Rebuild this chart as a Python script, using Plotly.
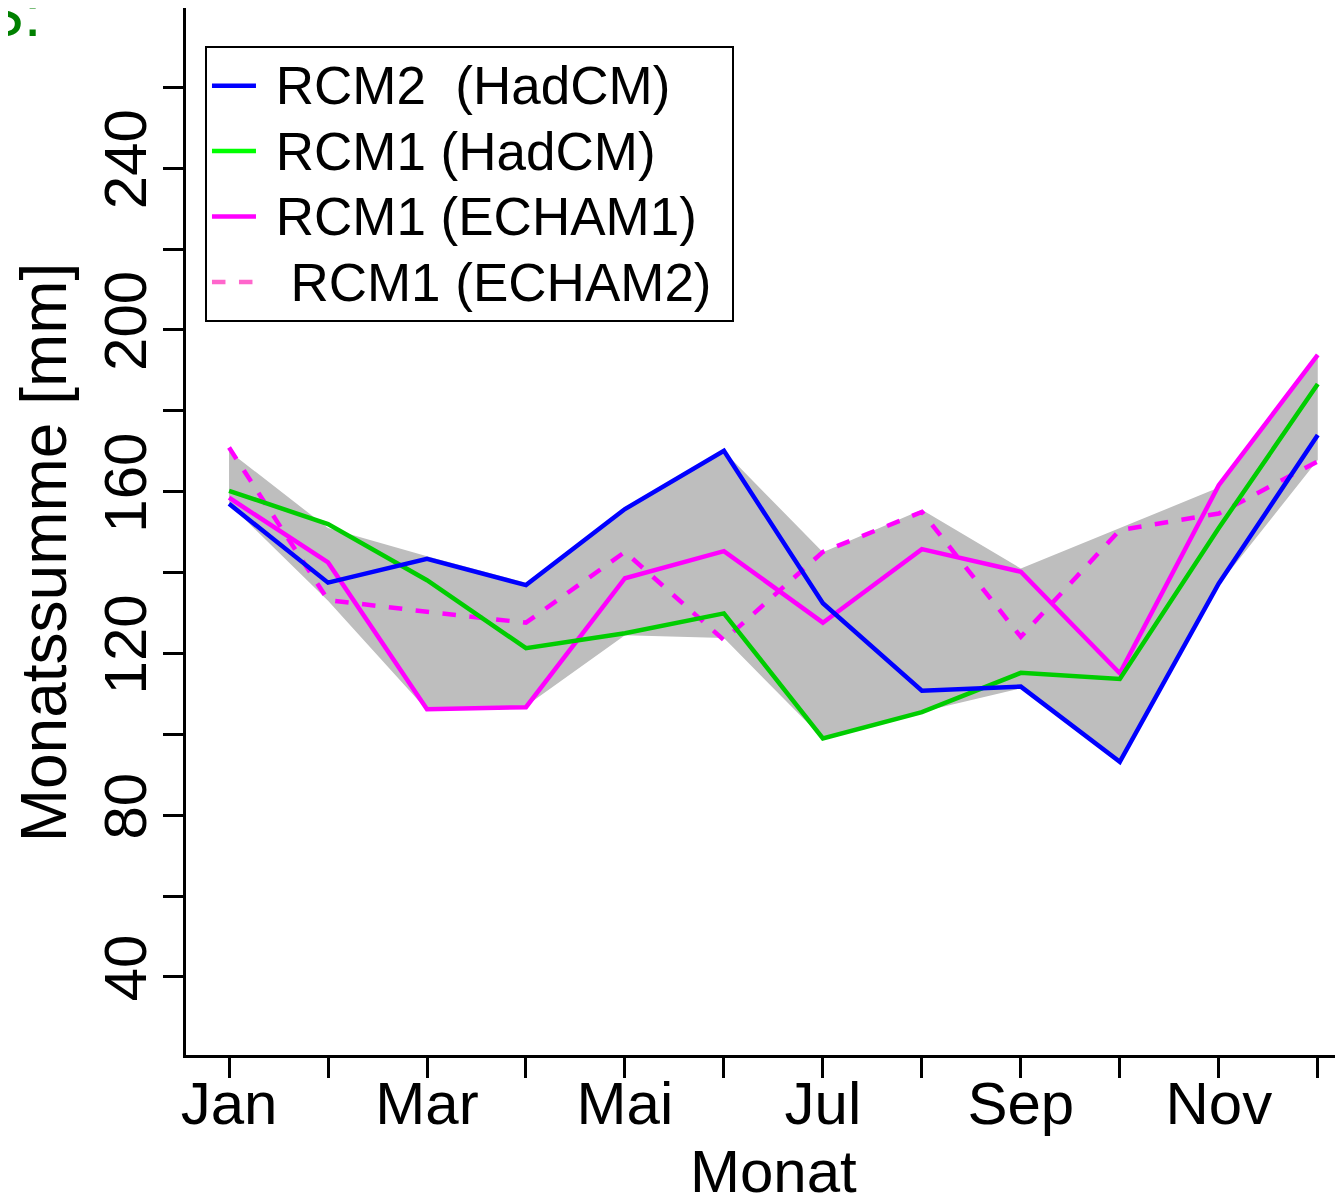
import plotly.graph_objects as go

months = list(range(1, 13))
month_labels = ["Jan", "", "Mar", "", "Mai", "", "Jul", "", "Sep", "", "Nov", ""]

rcm2_hadcm = [157, 137.5, 143.4, 136.9, 155.7, 170.1, 132.4, 110.8, 111.8, 93.2, 137.3, 174]
rcm1_hadcm = [160.2, 152, 138.1, 121.3, 125, 129.9, 99, 105.5, 115.2, 113.7, 151, 186.6]
rcm1_echam1 = [158.5, 142.5, 106.2, 106.7, 138.6, 145.3, 127.6, 145.8, 140.2, 115.1, 161.6, 193.8]
rcm1_echam2 = [170.9, 133.2, 130.3, 127.6, 145.1, 123.3, 145.1, 155, 124.1, 150.5, 154.6, 167.5]

band_upper = [170, 151, 144, 137.5, 156, 170, 145, 155.5, 141, 151, 161, 194]
band_lower = [157, 133, 106, 107, 124.5, 123.8, 99, 105.6, 111.4, 93, 137, 167.8]

y_tickvals = [40, 60, 80, 100, 120, 140, 160, 180, 200, 220, 240, 260]
y_ticktext = ["40", "", "80", "", "120", "", "160", "", "200", "", "240", ""]

legend_names = [" RCM2  (HadCM)", " RCM1 (HadCM)", " RCM1 (ECHAM1)", "  RCM1 (ECHAM2)"]

FONT = "Liberation Sans, Arial, sans-serif"

fig = go.Figure()

# grey band
fig.add_trace(go.Scatter(x=months, y=band_upper, mode="lines", line=dict(width=0, color="#BEBEBE"),
                         showlegend=False, hoverinfo="skip"))
fig.add_trace(go.Scatter(x=months, y=band_lower, mode="lines", line=dict(width=0, color="#BEBEBE"),
                         fill="tonexty", fillcolor="#BEBEBE", showlegend=False, hoverinfo="skip"))

fig.add_trace(go.Scatter(x=months, y=rcm1_echam2, mode="lines",
                         line=dict(color="#FF00FF", width=4.5, dash="dash"), showlegend=False))
fig.add_trace(go.Scatter(x=months, y=rcm1_echam1, mode="lines",
                         line=dict(color="#FF00FF", width=4.5), showlegend=False))
fig.add_trace(go.Scatter(x=months, y=rcm1_hadcm, mode="lines",
                         line=dict(color="#00CD00", width=4.5), showlegend=False))
fig.add_trace(go.Scatter(x=months, y=rcm2_hadcm, mode="lines",
                         line=dict(color="#0000FF", width=4.5), showlegend=False))

# legend entries
legend_styles = [("#0000FF", "solid"), ("#00FF00", "solid"), ("#FF00FF", "solid"), ("#FF66CC", "dash")]
for name, (col, dash) in zip(legend_names, legend_styles):
    fig.add_trace(go.Scatter(x=[None], y=[None], mode="lines",
                             name='<span style="font-size:53px">' + name + '\u00a0</span>',
                             line=dict(color=col, width=4.5, dash=dash)))

fig.update_layout(
    width=1335, height=1189,
    margin=dict(l=178, r=0, t=0, b=142),
    paper_bgcolor="white", plot_bgcolor="white",
    font=dict(family=FONT, color="black", size=60),
    showlegend=True,
    legend=dict(x=0.0164, y=0.9637, xanchor="left", yanchor="top",
                bordercolor="black", borderwidth=2, bgcolor="white",
                font=dict(size=48, family=FONT), tracegroupgap=0,
                traceorder="normal", itemwidth=44),
    xaxis=dict(range=[0.565, 12.255], tickvals=months, ticktext=month_labels,
               ticks="outside", ticklen=20, tickwidth=2.5, tickcolor="black",
               showline=True, linecolor="black", linewidth=3, mirror=True,
               showgrid=False, zeroline=False, automargin=False,
               ticklabelstandoff=-26,
               tickfont=dict(size=60, family=FONT)),
    yaxis=dict(range=[20.7, 279.6], tickvals=y_tickvals, ticktext=y_ticktext,
               ticks="outside", ticklen=20, tickwidth=2.5, tickcolor="black",
               tickangle=-90, automargin=False, ticklabelstandoff=-7,
               showline=True, linecolor="black", linewidth=3,
               showgrid=False, zeroline=False, tickfont=dict(size=60, family=FONT)),
)

fig.add_annotation(text="Monat", x=6.5, xref="x", y=-0.1108, yref="paper",
                   showarrow=False, font=dict(size=60, family=FONT), xanchor="center", yanchor="middle")
fig.add_annotation(text="Monatssumme [mm]", x=-0.1225, xref="paper", y=0.4804, yref="paper",
                   textangle=-90, showarrow=False, font=dict(size=64, family=FONT),
                   xanchor="center", yanchor="middle")
fig.add_annotation(text="S:", x=-0.1236, xref="paper", y=0.958, yref="paper",
                   showarrow=False, font=dict(size=64, family=FONT, color="#008000"),
                   xanchor="right", yanchor="bottom")

fig.write_html("out.html")
